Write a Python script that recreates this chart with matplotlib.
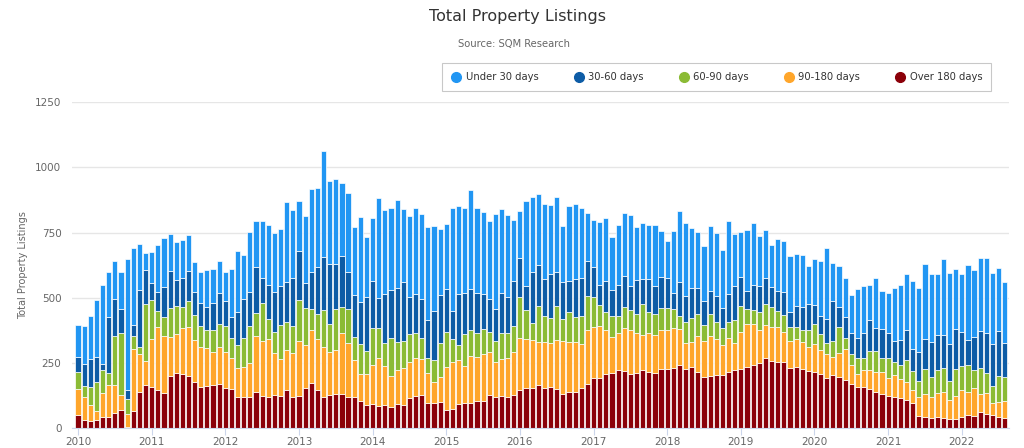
import matplotlib
matplotlib.use("Agg")
import matplotlib.pyplot as plt
from matplotlib.lines import Line2D
import numpy as np

plt.rcParams['font.family'] = ['DejaVu Sans']

# monthly listings, Jan 2010 .. Aug 2022
years = ['2010', '2011', '2012', '2013', '2014', '2015', '2016',
         '2017', '2018', '2019', '2020', '2021', '2022']

over180 = [51, 32, 28, 31, 45, 45, 58, 70, 6, 66,
           141, 166, 158, 148, 134, 201, 211, 207, 201, 176,
           157, 161, 165, 169, 153, 151, 121, 121, 121, 141,
           125, 121, 128, 125, 147, 121, 125, 153, 173, 147,
           121, 128, 132, 132, 121, 119, 105, 89, 93, 87,
           89, 83, 93, 89, 115, 123, 129, 96, 96, 101,
           70, 74, 92, 96, 98, 105, 105, 129, 121, 125,
           121, 129, 146, 156, 153, 165, 153, 157, 151, 132,
           139, 139, 153, 169, 192, 193, 207, 211, 225, 221,
           207, 211, 225, 215, 211, 229, 229, 233, 243, 226,
           236, 215, 197, 201, 204, 204, 215, 222, 229, 236,
           243, 250, 268, 257, 253, 253, 233, 236, 226, 219,
           215, 207, 193, 203, 197, 185, 169, 158, 160, 151,
           141, 133, 123, 119, 115, 109, 97, 49, 45, 41,
           45, 38, 36, 36, 43, 51, 47, 61, 54, 51,
           45, 40]

d90_180 = [100, 87, 61, 36, 89, 121, 109, 58, 49, 238,
           143, 92, 184, 242, 220, 148, 151, 176, 187, 162,
           156, 146, 127, 142, 141, 118, 111, 115, 129, 213,
           210, 220, 160, 139, 153, 169, 211, 166, 203, 194,
           192, 164, 167, 233, 207, 144, 105, 120, 148, 181,
           150, 118, 129, 143, 138, 146, 135, 116, 83, 97,
           166, 179, 169, 142, 178, 167, 180, 162, 133, 139,
           147, 165, 202, 185, 185, 167, 179, 169, 188, 201,
           193, 193, 169, 207, 196, 201, 169, 138, 139, 162,
           171, 153, 133, 150, 147, 147, 147, 151, 137, 100,
           96, 139, 139, 153, 138, 115, 130, 106, 139, 164,
           157, 128, 128, 130, 134, 118, 100, 106, 104, 92,
           107, 93, 92, 69, 91, 118, 74, 52, 64, 73,
           75, 83, 68, 84, 75, 68, 50, 70, 87, 78,
           92, 102, 73, 86, 105, 89, 106, 72, 81, 45,
           55, 65]

d60_90 = [64, 43, 68, 112, 89, 45, 188, 236, 58, 50,
          26, 217, 151, 60, 72, 111, 107, 81, 101, 96,
          81, 70, 83, 89, 100, 79, 87, 109, 143, 87,
          144, 79, 83, 132, 109, 104, 155, 144, 81, 98,
          139, 109, 157, 100, 128, 86, 112, 87, 142, 115,
          89, 144, 107, 104, 109, 96, 83, 56, 82, 128,
          132, 91, 58, 124, 102, 92, 95, 77, 82, 100,
          98, 100, 155, 111, 66, 135, 97, 96, 129, 86,
          114, 93, 110, 132, 115, 79, 70, 83, 68, 81,
          74, 74, 120, 82, 81, 84, 84, 73, 51, 83,
          92, 84, 60, 84, 66, 66, 64, 89, 102, 56,
          52, 69, 82, 77, 61, 64, 55, 45, 45, 64,
          78, 60, 43, 63, 100, 43, 43, 58, 45, 73,
          81, 52, 78, 51, 52, 84, 72, 63, 95, 78,
          86, 92, 74, 105, 91, 102, 69, 100, 78, 68,
          101, 92]

d30_60 = [60, 83, 107, 93, 22, 215, 141, 93, 35, 42,
          221, 132, 63, 74, 114, 143, 98, 114, 115, 87,
          86, 88, 105, 118, 95, 77, 128, 150, 130, 179,
          96, 128, 153, 150, 153, 181, 190, 95, 142, 178,
          206, 230, 174, 194, 144, 161, 162, 208, 180, 115,
          188, 184, 208, 226, 143, 148, 147, 146, 188, 184,
          167, 105, 194, 156, 157, 153, 134, 127, 120, 153,
          137, 170, 150, 93, 196, 158, 142, 170, 133, 141,
          120, 146, 146, 135, 115, 75, 118, 98, 118, 118,
          93, 129, 93, 125, 107, 121, 115, 61, 129, 97,
          115, 98, 92, 89, 101, 78, 105, 128, 110, 72,
          96, 97, 100, 78, 79, 86, 59, 83, 89, 100,
          72, 69, 92, 153, 78, 79, 78, 78, 96, 118,
          89, 112, 96, 82, 97, 115, 86, 111, 116, 133,
          135, 125, 139, 152, 132, 98, 127, 139, 152, 158,
          171, 129]

under30 = [121, 147, 166, 219, 303, 175, 147, 143, 501, 294,
           176, 65, 120, 179, 189, 141, 148, 144, 137, 115,
           119, 143, 129, 124, 112, 184, 233, 170, 230, 173,
           221, 230, 224, 219, 304, 261, 190, 256, 318, 303,
           405, 316, 326, 281, 302, 262, 326, 231, 243, 386,
           320, 314, 340, 280, 309, 330, 327, 357, 326, 254,
           247, 394, 341, 325, 378, 328, 314, 298, 366, 325,
           314, 236, 180, 326, 285, 273, 290, 265, 285, 217,
           288, 289, 268, 181, 179, 242, 243, 202, 229, 244,
           272, 204, 215, 208, 234, 175, 143, 239, 272, 280,
           229, 217, 210, 247, 240, 222, 279, 201, 174, 233,
           238, 192, 183, 162, 198, 198, 212, 198, 201, 148,
           179, 211, 270, 144, 157, 151, 147, 188, 180, 134,
           190, 146, 155, 201, 211, 215, 261, 244, 286, 261,
           233, 293, 275, 233, 220, 288, 259, 281, 289, 275,
           243, 235]

series = [('Under 30 days', under30, '#2196f3'),
          ('30-60 days', d30_60, '#0d5ca6'),
          ('60-90 days', d60_90, '#8bbb35'),
          ('90-180 days', d90_180, '#ffa62b'),
          ('Over 180 days', over180, '#8b0009')]

fig = plt.figure(figsize=(10.24, 4.48), dpi=100)
ax = fig.add_axes([0.0708, 0.044, 0.9146, 0.7277])

x = np.arange(len(over180))
bottom = np.zeros(len(x))
# stack from the bottom (over 180) up to under 30
for name, vals, col in series[::-1]:
    ax.bar(x, vals, width=0.84, bottom=bottom, color=col,
           edgecolor='white', linewidth=0.5, zorder=2)
    bottom = bottom + np.array(vals)

ax.set_xlim(-0.9, len(x) - 0.3)
ax.set_ylim(0, 1250)
ax.set_yticks(np.arange(0, 1251, 250))
ax.grid(axis='y', color='#e6e6e6', linewidth=1, zorder=0)
ax.set_xticks(np.arange(0, len(x), 12))
ax.set_xticklabels(years)

for s in ['top', 'right', 'left']:
    ax.spines[s].set_visible(False)
ax.spines['bottom'].set_color('#ccd6eb')
ax.tick_params(axis='y', length=0, labelsize=7.5, labelcolor='#666666', pad=8)
ax.tick_params(axis='x', length=5, color='#ccd6eb', labelsize=7.5,
               labelcolor='#666666', pad=1)
ax.set_ylabel('Total Property Listings', fontsize=7, color='#666666', labelpad=5)

fig.text(0.505, 0.964, 'Total Property Listings', ha='center', va='center',
         fontsize=11.5, color='#333333')
fig.text(0.502, 0.902, 'Source: SQM Research', ha='center', va='center',
         fontsize=7.2, color='#666666')

handles = [Line2D([0], [0], marker='o', linestyle='', markersize=7,
                  markerfacecolor=c, markeredgecolor=c, label=n)
           for n, v, c in series]
leg = fig.legend(handles=handles, loc='center', ncol=5,
                 bbox_to_anchor=(0.7, 0.828), fontsize=7.2, frameon=True,
                 fancybox=False, edgecolor='#bbbbbb', handlelength=1.0,
                 handletextpad=0.45, columnspacing=3.5, borderpad=0.9)
leg.get_frame().set_linewidth(0.8)
for t in leg.get_texts():
    t.set_color('#333333')

fig.savefig('out.png', dpi=100)
